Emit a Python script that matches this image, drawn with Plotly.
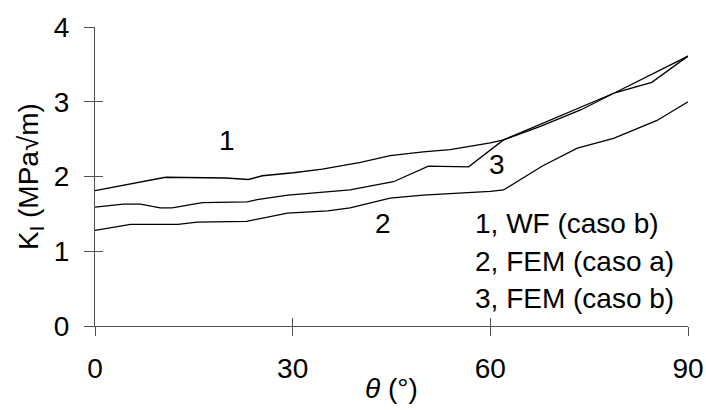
import plotly.graph_objects as go

# Curve 1: WF (caso b)
theta_1 = [0, 10.7, 19.8, 23.3, 25.4, 30.1, 34.5, 40.3, 44.8, 49.8, 53.9, 60.0, 62.0, 67.6, 73.7, 78.9, 90]
k_1 = [1.81, 1.99, 1.98, 1.96, 2.01, 2.05, 2.10, 2.19, 2.28, 2.33, 2.36, 2.45, 2.49, 2.70, 2.92, 3.12, 3.61]

# Curve 2: FEM (caso a)
theta_2 = [0, 5.4, 12.6, 15.5, 23.0, 25.1, 29.2, 35.3, 38.7, 44.8, 49.8, 60.0, 62.0, 67.9, 73.2, 78.7, 85.3, 90]
k_2 = [1.28, 1.36, 1.36, 1.39, 1.40, 1.44, 1.51, 1.54, 1.58, 1.71, 1.75, 1.80, 1.82, 2.14, 2.38, 2.51, 2.75, 3.00]

# Curve 3: FEM (caso b)
theta_3 = [0, 4.3, 6.9, 9.9, 11.7, 16.3, 23.1, 24.6, 29.3, 34.2, 38.7, 45.3, 50.6, 56.7, 62.0, 67.6, 73.7, 78.9, 84.5, 90]
k_3 = [1.59, 1.63, 1.63, 1.58, 1.58, 1.65, 1.66, 1.69, 1.75, 1.79, 1.82, 1.93, 2.14, 2.13, 2.49, 2.67, 2.89, 3.12, 3.26, 3.61]

x_ticks = [0, 30, 60, 90]
y_ticks = [0, 1, 2, 3, 4]

curve_labels = ["1", "2", "3"]
curve_label_pos = [(20.0, 2.48), (43.7, 1.37), (61.0, 2.16)]
legend_lines = ["1, WF (caso b)", "2, FEM (caso a)", "3, FEM (caso b)"]
legend_y = [1.37, 0.86, 0.37]
x_title = "<i>θ</i> (°)"
y_title = "K<sub>I</sub> (MPa√m)"

FONT = "Liberation Sans, Arial, sans-serif"
FS = 28
AX = "#505050"

fig = go.Figure()
for th, k, name in [(theta_1, k_1, "WF (caso b)"), (theta_2, k_2, "FEM (caso a)"), (theta_3, k_3, "FEM (caso b)")]:
    fig.add_trace(go.Scatter(x=th, y=k, mode="lines", name=name,
                             line=dict(color="black", width=1.3), showlegend=False))

# dummy trace so the overlay axes (inside tick halves) are drawn
fig.add_trace(go.Scatter(x=[0], y=[0], xaxis="x2", yaxis="y2", mode="markers",
                         marker=dict(opacity=0), showlegend=False, hoverinfo="skip"))

annotations = []
for lab, (ax_, ay_) in zip(curve_labels, curve_label_pos):
    annotations.append(dict(x=ax_, y=ay_, xref="x", yref="y", text=lab, showarrow=False,
                            font=dict(family=FONT, size=FS, color="black")))
for txt, ly in zip(legend_lines, legend_y):
    annotations.append(dict(x=57.4, y=ly, xref="x", yref="y", text=txt, showarrow=False,
                            xanchor="left", font=dict(family=FONT, size=FS, color="black")))
# x-axis title
annotations.append(dict(x=0.5, y=0, xref="paper", yref="paper", yshift=-62, text=x_title,
                        showarrow=False, yanchor="middle",
                        font=dict(family=FONT, size=FS, color="black")))

fig.update_layout(
    width=706, height=410,
    margin=dict(l=95, r=18, t=27, b=84),
    paper_bgcolor="white", plot_bgcolor="white",
    font=dict(family=FONT, size=FS, color="black"),
    xaxis=dict(range=[0, 90], tickvals=x_ticks, ticktext=[str(v) for v in x_ticks],
               automargin=False,
               showgrid=False, zeroline=False, showline=True, linecolor=AX, linewidth=1.2,
               ticks="outside", ticklen=9, tickcolor=AX, tickwidth=1.2,
               ticklabelstandoff=8),
    yaxis=dict(range=[0, 4], tickvals=y_ticks, ticktext=[str(v) for v in y_ticks],
               automargin=False,
               showgrid=False, zeroline=False, showline=True, linecolor=AX, linewidth=1.2,
               ticks="outside", ticklen=10, tickcolor=AX, tickwidth=1.2,
               ticklabelstandoff=9,
               title=dict(text=y_title, standoff=6, font=dict(size=FS))),
    xaxis2=dict(range=[0, 90], tickvals=x_ticks, overlaying="x", anchor="y", side="bottom",
                automargin=False,
                showticklabels=False, showgrid=False, zeroline=False, showline=False,
                ticks="inside", ticklen=8, tickcolor=AX, tickwidth=1.2),
    yaxis2=dict(range=[0, 4], tickvals=y_ticks, overlaying="y", anchor="x", side="left",
                automargin=False,
                showticklabels=False, showgrid=False, zeroline=False, showline=False,
                ticks="inside", ticklen=8, tickcolor=AX, tickwidth=1.2),
    annotations=annotations,
)

fig.write_html("out.html")
